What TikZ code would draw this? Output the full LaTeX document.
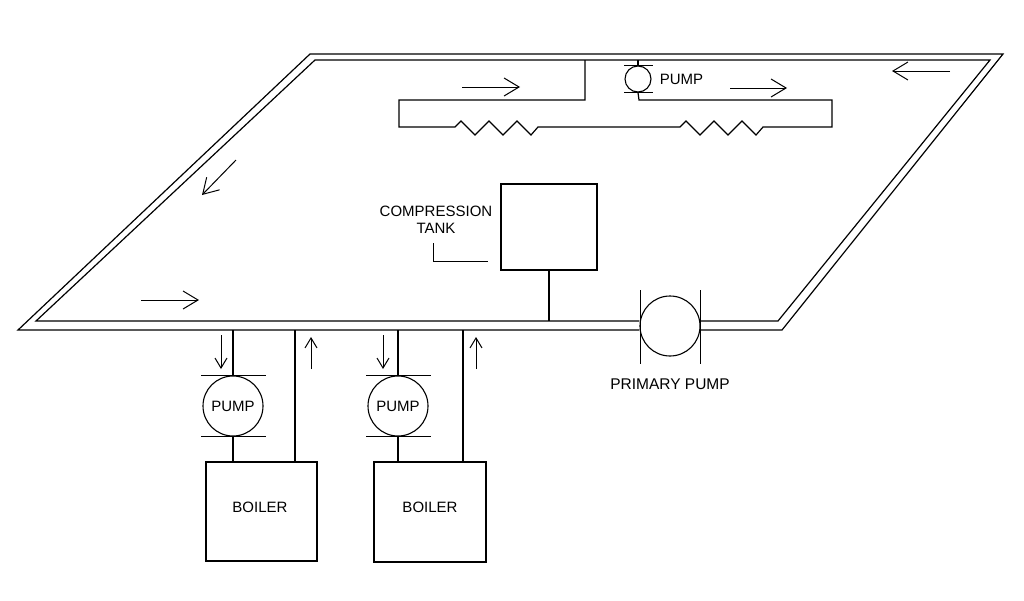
\documentclass[tikz,border=0pt]{standalone}
\usepackage{fontspec}
\setmainfont{Liberation Sans}
\usetikzlibrary{arrows.meta,positioning}
\newcommand{\coilteeth}{-- ++(6,-6) -- ++(14,14) -- ++(14,-14) -- ++(14,14) -- ++(14,-14) -- ++(14,14) -- ++(7,-8)}

\begin{document}
\begin{tikzpicture}[
  x=1pt, y=-1pt,
  pipe/.style={line width=1.2pt, draw=black},
  flow/.style={-{Straight Barb[length=15pt,width=18pt]}, line width=1pt, draw=black},
  flowsmall/.style={-{Straight Barb[length=10pt,width=12pt]}, line width=1pt, draw=black},
  pumpnode/.style={circle, draw=black, line width=1.1pt, inner sep=0pt, minimum size=#1,
    font=\fontsize{15}{17}\selectfont},
  unit/.style={rectangle, draw=black, line width=1.2pt, inner sep=0pt, align=center,
    font=\fontsize{15}{17}\selectfont},
  tag/.style={inner sep=0pt, align=center, font=\fontsize{15}{17}\selectfont}
]
\useasboundingbox (0,0) rectangle (1024,600);

% double line loop
\coordinate (outertl) at (310,54);
\coordinate (outertr) at (1003,54);
\coordinate (outerbr) at (782,330);
\coordinate (outerbl) at (18,330);
\coordinate (innertl) at (315,60);
\coordinate (innertr) at (990,60);
\coordinate (innerbr) at (778,321);
\coordinate (innerbl) at (36,321);

\node[pumpnode=60pt] (primary) at (670,326) {};
\node[tag] (primarytag) at (670,384) {\fontsize{15.5}{17}\selectfont PRIMARY PUMP};

\draw[pipe] (primary.west |- outerbl) -- (outerbl) -- (outertl) -- (outertr) -- (outerbr) -- (primary.east |- outerbr);
\draw[pipe] (primary.west |- innerbl) -- (innerbl) -- (innertl) -- (innertr) -- (innerbr) -- (primary.east |- innerbr);
\draw[pipe] (640.5,290) -- (640.5,364);
\draw[pipe] (700.5,290) -- (700.5,364);

% boilers
\node[pumpnode=60pt] (pumpa) at (233,406) {PUMP};
\node[pumpnode=60pt] (pumpb) at (398,406) {PUMP};
\node[unit, minimum width=111pt, minimum height=99pt] (boilera) at (261.5,511.5) {};
\node[unit, minimum width=112pt, minimum height=100pt] (boilerb) at (430,512) {};
\node[tag] (boileratag) at (260,507) {BOILER};
\node[tag] (boilerbtag) at (430,507) {BOILER};

\foreach \p in {pumpa,pumpb} {
  \draw[pipe] ([xshift=-32pt]\p.north) -- ([xshift=33pt]\p.north);
  \draw[pipe] ([xshift=-32pt]\p.south) -- ([xshift=33pt]\p.south);
  \draw[pipe] (\p.north) -- (\p.north |- outerbl);
}
\draw[pipe] (pumpa.south) -- (pumpa.south |- boilera.north);
\draw[pipe] (pumpb.south) -- (pumpb.south |- boilerb.north);
\coordinate (returna) at (295,462);
\coordinate (returnb) at (463,462);
\draw[pipe] (returna) -- (returna |- outerbl);
\draw[pipe] (returnb) -- (returnb |- outerbl);

% compression tank
\node[unit, minimum width=96pt, minimum height=86pt] (tank) at (549,227) {};
\node[tag] (tanktag) at (436,220) {COMPRESSION\\TANK};
\draw[pipe] (tank.south) -- (tank.south |- innerbl);
\coordinate (leadertop) at (433,243);
\coordinate (leaderend) at (488,261);
\draw[line width=1pt] (leadertop) |- (leaderend);

% load circuit at the top
\node[pumpnode=26pt] (pumpc) at (638,79) {};
\node[tag, right=8pt of pumpc] (pumpctag) {PUMP};
\draw[pipe] ([xshift=-14pt]pumpc.north) -- ([xshift=15pt]pumpc.north);
\draw[pipe] ([xshift=-14pt]pumpc.south) -- ([xshift=15pt]pumpc.south);
\draw[pipe] (pumpc.north) -- (pumpc.north |- innertl);
\coordinate (branch) at (585,60);
\draw[pipe] (branch) -- (585,100) -- (399,100) -- (399,127) -- (455,127) \coilteeth
  -- (680,127) \coilteeth -- (832,127) -- (832,100) -- (639,100) -- (pumpc.south);

% flow arrows
\draw[flow] (462,87) -- (520,87);
\draw[flow] (730,88) -- (787,88);
\draw[flow] (950,71) -- (892,71);
\draw[flow] (141,300) -- (199,300);
\draw[flow] (236,160) -- (202,195);
\draw[flowsmall] (221,335) -- (221,369);
\draw[flowsmall] (311,369) -- (311,337);
\draw[flowsmall] (383,335) -- (383,369);
\draw[flowsmall] (476,369) -- (476,337);
\end{tikzpicture}
\end{document}
